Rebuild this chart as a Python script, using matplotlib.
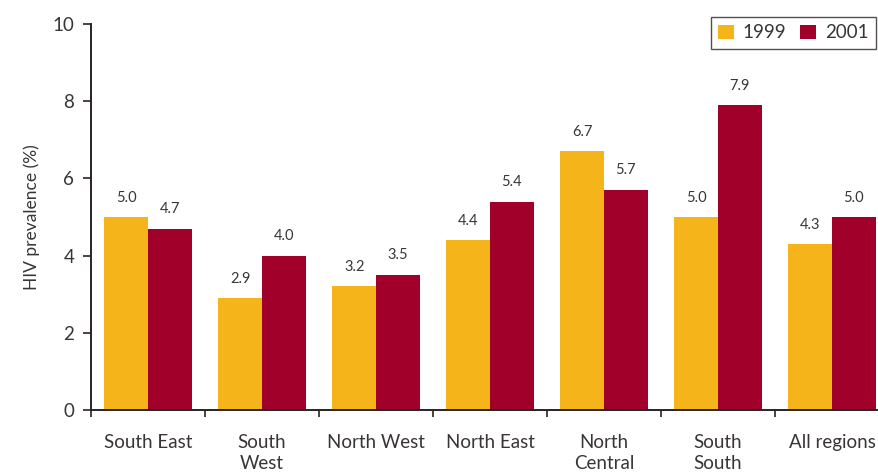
import matplotlib
matplotlib.use("Agg")
import matplotlib.pyplot as plt
import numpy as np

regions = ["South East", "South\nWest", "North West", "North East",
           "North\nCentral", "South\nSouth", "All regions"]
prev_1999 = [5.0, 2.9, 3.2, 4.4, 6.7, 5.0, 4.3]
prev_2001 = [4.7, 4.0, 3.5, 5.4, 5.7, 7.9, 5.0]
years = ["1999", "2001"]
colors = ["#F5B51A", "#A0002A"]
text_color = "#3a3535"

plt.rcParams['font.family'] = ['Lato', 'DejaVu Sans']

fig = plt.figure(figsize=(8.79, 4.75), dpi=100)
ax = fig.add_axes([91 / 879, 65 / 475, 798 / 879, 386 / 475])

x = np.arange(len(regions))
w = 0.382
bars1 = ax.bar(x - w / 2, prev_1999, w, color=colors[0], label=years[0])
bars2 = ax.bar(x + w / 2, prev_2001, w, color=colors[1], label=years[1])

for bars, vals in ((bars1, prev_1999), (bars2, prev_2001)):
    for b, v in zip(bars, vals):
        ax.annotate(f"{v:.1f}", (b.get_x() + b.get_width() / 2, v),
                    xytext=(0, 9), textcoords="offset points",
                    ha="center", va="bottom", fontsize=10.5, color=text_color)

ax.set_xlim(-0.5, len(regions) - 0.5)
ax.set_ylim(0, 10)
ax.set_yticks([0, 2, 4, 6, 8, 10])
ax.set_xticks(np.arange(len(regions) + 1) - 0.5)
ax.set_xticklabels([])
ax.set_xticks(x, minor=True)
ax.set_xticklabels(regions, minor=True, fontsize=13.5, color=text_color,
                   linespacing=1.3, va="top")
ax.tick_params(axis="x", which="minor", length=0, pad=17)
ax.tick_params(axis="x", which="major", length=5, width=1.2, color="#2a2222")
ax.tick_params(axis="y", length=6, width=1.2, color="#2a2222",
               labelsize=13.5, labelcolor=text_color, pad=6)

for s in ("top", "right"):
    ax.spines[s].set_visible(False)
for s in ("left", "bottom"):
    ax.spines[s].set_linewidth(1.4)
    ax.spines[s].set_color("#2a2222")

ax.set_ylabel("HIV prevalence (%)", fontsize=12.5, color=text_color, labelpad=9)

leg = fig.legend(loc="upper right", bbox_to_anchor=(876 / 879, 1 - 17 / 475),
                 ncol=2, frameon=True, fancybox=False, fontsize=13.5,
                 handlelength=0.85, handleheight=0.85, handletextpad=0.45,
                 columnspacing=0.75, borderpad=0.4, borderaxespad=0,
                 labelcolor=text_color)
leg.get_frame().set_edgecolor("#2a2222")
leg.get_frame().set_linewidth(1.0)

fig.savefig("out.png", dpi=100)
